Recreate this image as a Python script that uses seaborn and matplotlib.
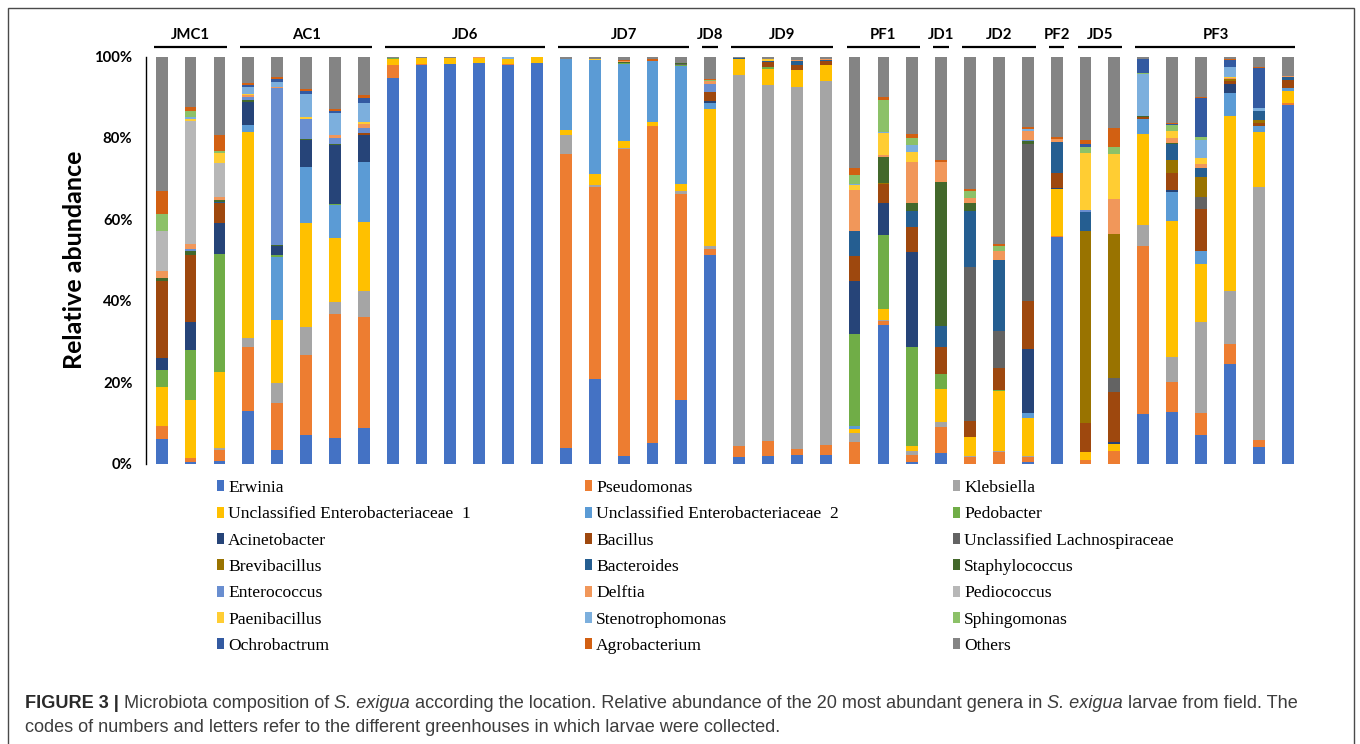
import numpy as np
import pandas as pd
import matplotlib
matplotlib.use("Agg")
import matplotlib.pyplot as plt
import matplotlib.transforms as mtransforms
from matplotlib.patches import Rectangle, Patch
import seaborn as sns

# ---------------------------------------------------------------- data
groups = ["JMC1", "AC1", "JD6", "JD7", "JD8", "JD9", "PF1", "JD1", "JD2", "PF2", "JD5", "PF3"]
group_sizes = [3, 5, 6, 5, 1, 4, 3, 1, 3, 1, 2, 6]

genera = ["Erwinia", "Pseudomonas", "Klebsiella",
          "Unclassified Enterobacteriaceae  1", "Unclassified Enterobacteriaceae  2", "Pedobacter",
          "Acinetobacter", "Bacillus", "Unclassified Lachnospiraceae",
          "Brevibacillus", "Bacteroides", "Staphylococcus",
          "Enterococcus", "Delftia", "Pediococcus",
          "Paenibacillus", "Stenotrophomonas", "Sphingomonas",
          "Ochrobactrum", "Agrobacterium", "Others"]

genus_colors = ["#4472C4", "#ED7D31", "#A5A5A5",
                "#FFC000", "#5B9BD5", "#70AD47",
                "#264478", "#9E480E", "#636363",
                "#997300", "#255E91", "#43682B",
                "#698ED0", "#F1975A", "#B7B7B7",
                "#FFCD33", "#7CAFDD", "#8CC168",
                "#335AA1", "#D26012", "#848484"]

# relative abundance (%) of each genus in the 40 larvae, ordered by greenhouse
erwinia = [6.1, 0.4, 0.7, 12.9, 3.4, 7.0, 6.4, 8.8, 94.8, 97.8, 98.2, 98.3, 97.8, 98.4,
           3.8, 20.8, 1.8, 5.1, 15.6, 51.3, 1.7, 2.0, 2.1, 2.1, 0, 34.1, 0.3, 2.7,
           0, 0, 0.5, 55.6, 0, 0, 12.2, 12.7, 7.0, 24.6, 4.0, 88.0]
pseudomonas = [3.2, 1.1, 2.7, 15.8, 11.4, 19.6, 30.4, 27.2, 3.0, 0.4, 0, 0, 0.3, 0,
               72.3, 47.2, 75.4, 77.8, 50.7, 1.4, 2.7, 3.6, 1.5, 2.5, 5.4, 1.0, 1.8, 6.4,
               1.6, 2.8, 1.2, 0.2, 0.9, 3.1, 41.3, 7.4, 5.4, 4.8, 1.9, 0.5]
klebsiella = [0, 0, 0.4, 2.2, 4.9, 7.0, 2.8, 6.4, 0, 0, 0, 0, 0, 0,
              4.7, 0.4, 0.4, 0, 0.6, 0.8, 91.1, 87.4, 88.8, 89.4, 2.1, 0.2, 1.1, 1.2,
              0.2, 0.2, 0.3, 0, 0, 0, 5.1, 6.2, 22.3, 13.0, 62.1, 0]
unc_entero_1 = [9.6, 14.1, 18.6, 50.6, 15.5, 25.5, 15.8, 17.0, 1.6, 1.4, 1.5, 1.4, 1.4, 1.5,
                1.2, 2.7, 1.7, 1.0, 1.7, 33.6, 3.8, 4.0, 4.3, 4.0, 0.9, 2.6, 1.1, 8.0,
                4.8, 14.9, 9.3, 11.7, 1.9, 1.7, 22.4, 33.3, 14.4, 43.0, 13.5, 3.1]
unc_entero_2 = [0, 0, 0, 1.8, 15.6, 13.8, 8.1, 14.7, 0, 0, 0, 0, 0, 0,
                17.3, 28.1, 18.8, 14.9, 29.1, 1.6, 0, 0, 0, 0, 0.8, 0, 0, 0,
                0, 0, 1.1, 0, 0, 0, 3.7, 7.1, 3.1, 5.6, 1.5, 0.6]
pedobacter = [4.1, 12.3, 29.1, 0, 0.5, 0, 0.3, 0, 0.3, 0, 0, 0, 0, 0,
              0, 0, 0.3, 0.2, 0.2, 0, 0.2, 0.3, 0, 0, 22.6, 18.3, 24.4, 3.8,
              0, 0.3, 0, 0, 0, 0, 0, 0, 0, 0, 0, 0]
acinetobacter = [2.9, 6.9, 7.7, 5.6, 2.2, 6.5, 14.4, 6.7, 0, 0, 0, 0, 0, 0,
                 0, 0, 0, 0, 0, 0.4, 0, 0, 0, 0, 13.0, 7.9, 23.3, 0,
                 0, 0, 15.8, 0.3, 0, 0.6, 0, 0.4, 0, 2.2, 0, 0]
bacillus = [18.9, 16.5, 4.8, 0, 0, 0, 0, 0.3, 0, 0, 0, 0, 0, 0,
            0, 0, 0, 0, 0, 2.1, 0, 1.4, 1.3, 0.8, 6.1, 4.6, 6.1, 6.6,
            3.9, 5.4, 11.7, 3.5, 7.1, 12.1, 0.4, 4.2, 10.4, 0.9, 0.6, 2.1]
unc_lachno = [0, 0, 0, 0, 0, 0, 0, 0, 0, 0, 0, 0, 0, 0,
              0, 0, 0, 0, 0.3, 0, 0, 0, 0, 0, 0, 0, 0, 0,
              37.9, 9.1, 38.7, 0, 0, 3.6, 0, 0, 2.9, 0, 0, 0]
brevibacillus = [0, 0, 0, 0, 0, 0, 0, 0, 0, 0, 0, 0, 0, 0,
                 0, 0, 0, 0, 0, 0, 0, 0, 0, 0, 0, 0.3, 0, 0,
                 0, 0, 0, 0, 47.3, 35.4, 0, 3.3, 4.9, 0.3, 0.8, 0]
bacteroides = [0, 0, 0.3, 0, 0, 0, 0, 0, 0, 0, 0, 0, 0, 0,
               0, 0, 0, 0, 0, 0, 0.2, 0.3, 0.8, 0.3, 6.2, 0, 4.0, 5.2,
               13.7, 17.4, 0, 7.6, 4.7, 0, 0, 3.9, 2.1, 0, 2.1, 0.6]
staphylococcus = [0.7, 1.0, 0.4, 0.3, 0.3, 0.3, 0.4, 0, 0, 0, 0, 0, 0, 0,
                  0, 0, 0.3, 0, 0.3, 0, 0, 0, 0, 0, 0, 6.3, 2.0, 35.3,
                  1.9, 0, 0.7, 0, 0, 0, 0.3, 0.3, 0, 0, 0, 0]
enterococcus = [0, 0.5, 0, 0.8, 38.4, 5.0, 1.5, 1.4, 0, 0, 0, 0, 0, 0,
                0, 0, 0, 0, 0, 2.1, 0, 0, 0, 0, 0, 0, 0, 0,
                0, 0, 0.3, 0, 0.4, 0, 0, 0, 0, 0, 0, 0]
delftia = [1.8, 1.2, 0.7, 0.5, 0.4, 0, 0.7, 1.0, 0, 0, 0, 0.3, 0, 0,
           0, 0, 0.3, 0, 0, 0.6, 0, 0, 0.3, 0.2, 10.0, 0.4, 10.0, 5.0,
           1.3, 2.1, 2.0, 0.9, 0, 8.4, 0, 1.2, 1.0, 0.3, 0, 0.3]
pediococcus = [9.9, 30.2, 8.5, 0, 0, 0, 0, 0, 0, 0, 0, 0, 0, 0,
               0, 0, 0, 0, 0, 0, 0, 0, 0, 0, 0, 0, 0, 0,
               0, 0, 0, 0, 0, 0, 0, 0, 0, 0, 0, 0]
paenibacillus = [0, 0.5, 2.3, 0.3, 0, 0.4, 0, 0.3, 0, 0, 0, 0, 0, 0,
                 0, 0.2, 0, 0, 0, 0, 0, 0.3, 0, 0, 1.3, 5.6, 2.5, 0,
                 0, 0, 0, 0, 14.0, 11.2, 0, 1.6, 1.5, 0.3, 0, 0]
stenotrophomonas = [0, 0.4, 0, 1.8, 1.2, 5.6, 5.4, 4.9, 0, 0, 0, 0, 0.3, 0,
                    0, 0, 0, 0, 0, 0, 0, 0, 0, 0, 0.3, 0.2, 1.6, 0,
                    0, 0, 0.5, 0, 0, 0, 10.3, 0, 4.4, 2.5, 0.8, 0]
sphingomonas = [4.2, 1.6, 0.6, 0, 0, 0, 0, 0, 0, 0, 0, 0, 0, 0,
                0, 0, 0, 0, 0, 0.3, 0, 0, 0, 0, 2.1, 7.9, 1.7, 0,
                1.7, 1.3, 0, 0, 1.5, 1.6, 0.2, 1.5, 0.9, 0, 0, 0]
ochrobactrum = [0, 0, 0, 0.4, 0.6, 0.8, 0.5, 1.1, 0, 0, 0, 0, 0, 0,
                0, 0, 0, 0, 0, 0, 0, 0, 0, 0, 0, 0, 0, 0,
                0, 0, 0, 0, 0.6, 0, 3.5, 0.3, 9.5, 1.6, 9.8, 0]
agrobacterium = [5.5, 0.8, 4.0, 0.4, 0.5, 0.6, 0.4, 0.7, 0, 0, 0, 0, 0, 0,
                 0, 0, 0.2, 0.3, 0, 0.2, 0, 0, 0, 0, 1.8, 0.6, 1.1, 0.4,
                 0.5, 0.5, 0.5, 0.5, 1.2, 4.7, 0, 0.3, 0.3, 0.3, 0.3, 0]
others = [33.1, 12.5, 19.2, 6.6, 5.1, 7.9, 12.9, 9.5, 0.3, 0.4, 0.3, 0, 0.2, 0.1,
          0.7, 0.6, 0.8, 0.7, 1.5, 5.6, 0.3, 0.7, 0.9, 0.7, 27.4, 10.0, 19.0, 25.4,
          32.5, 46.0, 17.4, 19.7, 20.4, 17.6, 0.6, 16.3, 9.9, 0.6, 2.6, 4.8]

series = [erwinia, pseudomonas, klebsiella, unc_entero_1, unc_entero_2, pedobacter,
          acinetobacter, bacillus, unc_lachno, brevibacillus, bacteroides, staphylococcus,
          enterococcus, delftia, pediococcus, paenibacillus, stenotrophomonas, sphingomonas,
          ochrobactrum, agrobacterium, others]

samples = [f"{g}-{k + 1}" for g, n in zip(groups, group_sizes) for k in range(n)]
abund = pd.DataFrame(dict(zip(genera, series)), index=samples)
stack_top = abund.cumsum(axis=1)

# ---------------------------------------------------------------- style
sns.set_style("white")
plt.rcParams["font.family"] = ["Lato", "DejaVu Sans"]

W, H = 1360, 744
fig = plt.figure(figsize=(W / 100, H / 100), dpi=100)

ax_left, ax_right = 145.8, 1303.5
ax_top, ax_bot = 56.5, 463.7
ax = fig.add_axes([ax_left / W, 1 - ax_bot / H, (ax_right - ax_left) / W, (ax_bot - ax_top) / H])

# stacked columns: draw the cumulative tops from the highest layer down
for g, c in reversed(list(zip(genera, genus_colors))):
    sns.barplot(x=samples, y=stack_top[g].values, order=samples, color=c,
                width=0.41, saturation=1, errorbar=None, linewidth=0, ax=ax)

ax.set_xlim(-0.55, len(samples) - 0.45)
ax.set_ylim(0, 100)
ax.set_xticks([])
ax.set_xlabel("")

for side in ("top", "right", "bottom"):
    ax.spines[side].set_visible(False)
ax.spines["left"].set_color("black")
ax.spines["left"].set_linewidth(1.0)

yt = np.arange(0, 101, 10)
ax.set_yticks(yt)
ax.set_yticklabels([f"{v}%" if v % 20 == 0 else "" for v in yt],
                   fontweight="bold", fontsize=10.7, family=["Lato", "DejaVu Sans"])
ax.tick_params(axis="y", direction="out", length=3.6, width=1.0, color="black",
               pad=6, labelcolor="black")

ax.set_ylabel("Relative abundance", fontsize=18, fontweight="bold", color="black")
ax.yaxis.set_label_coords(-0.052, 0.5)

# greenhouse headers with bracket lines
trans = mtransforms.blended_transform_factory(ax.transData, ax.transAxes)
start = 0
for g, n in zip(groups, group_sizes):
    first, last = start, start + n - 1
    ax.plot([first - 0.27, last + 0.27], [1.024, 1.024], transform=trans,
            color="black", lw=1.6, solid_capstyle="butt", clip_on=False)
    ax.text((first + last) / 2, 1.043, g, transform=trans, ha="center", va="baseline",
            fontsize=10.7, fontweight="bold", color="black")
    start += n

# ---------------------------------------------------------------- legend
handles = [Patch(facecolor=c, edgecolor="none") for c in genus_colors]
col_x = [217, 585, 953]
for j, x in enumerate(col_x):
    idx = list(range(j, len(genera), 3))
    leg = fig.legend([handles[i] for i in idx], [genera[i] for i in idx],
                     loc="upper left", bbox_to_anchor=(x / W, 1 - 480 / H),
                     bbox_transform=fig.transFigure, frameon=False, ncol=1,
                     prop={"family": "Liberation Serif", "size": 12.6},
                     handlelength=0.42, handleheight=0.6, handletextpad=0.22,
                     labelspacing=0.59, borderpad=0, borderaxespad=0)
    for t in leg.get_texts():
        t.set_color("black")

# ---------------------------------------------------------------- frame and caption
fig.patches.append(Rectangle((8 / W, -0.02), (1354 - 8) / W, 1 - 8 / H + 0.02,
                             transform=fig.transFigure, fill=False,
                             edgecolor="#4a4a4a", linewidth=1.0))

cap_font = "Liberation Sans"
cap_size = 13.05
renderer = fig.canvas.get_renderer()


def text_width(s, **kw):
    t = fig.text(0, 0, s, fontsize=cap_size, family=cap_font, **kw)
    w = t.get_window_extent(renderer).width
    t.remove()
    return w


space_w = text_width("a a") - text_width("aa")


def caption_line(x_px, y_px, parts):
    x = x_px
    for s, kw in parts:
        style = {"color": "#3d3d3d"}
        style.update(kw)
        t = fig.text(x / W, 1 - y_px / H, s, fontsize=cap_size, family=cap_font,
                     va="baseline", ha="left", **style)
        x += t.get_window_extent(renderer).width + space_w


normal = {}
bold = {"fontweight": "bold", "color": "#2a2a2a"}
ital = {"style": "italic"}
caption_line(25, 708, [("FIGURE 3 |", bold),
                       ("Microbiota composition of", normal), ("S. exigua", ital),
                       ("according the location. Relative abundance of the 20 most abundant genera in", normal),
                       ("S. exigua", ital), ("larvae from field. The", normal)])
caption_line(25, 732, [("codes of numbers and letters refer to the different greenhouses in which larvae were collected.", normal)])

fig.savefig("out.png", dpi=100)
